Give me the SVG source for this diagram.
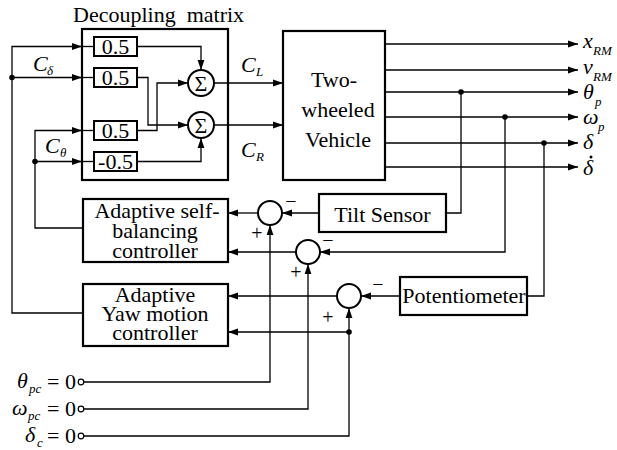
<svg xmlns="http://www.w3.org/2000/svg" width="617" height="450" viewBox="0 0 617 450">
<defs>
<marker id="arr" markerUnits="userSpaceOnUse" markerWidth="10" markerHeight="8" refX="10" refY="4" orient="auto"><path d="M0,0.6 L10,4 L0,7.4 z" fill="#000"/></marker>
<style>
.box{fill:#fff;stroke:#000;stroke-width:2.2}
.sb{fill:#fff;stroke:#000;stroke-width:2}
.ln{fill:none;stroke:#000;stroke-width:1.3}
.ar{marker-end:url(#arr)}
text{font-family:"Liberation Serif","Times New Roman",serif;fill:#000}
.t{font-size:22px}
.m{font-style:italic;font-size:22px}
.s{font-style:italic;font-size:13px}
.c{text-anchor:middle}
.pm{font-size:20px;text-anchor:middle}
.dot{fill:#000}
.sum{fill:#fff;stroke:#000;stroke-width:2}
.oc{fill:#fff;stroke:#000;stroke-width:1.2}
</style>
</defs>
<rect width="617" height="450" fill="#fff"/>

<g id="decoupling">
<rect class="box" x="82" y="29" width="146" height="151"/>
<text class="t" x="73" y="22" xml:space="preserve">Decoupling  matrix</text>
</g>

<g id="connectors">
<path class="ln ar" d="M83,313 H12 V46.5 H82"/>
<path class="ln" d="M82,46.5 H94"/>
<path class="ln ar" d="M12,77.5 H82"/>
<path class="ln" d="M82,77.5 H94"/>
<path class="ln ar" d="M83,228 H35 V130.5 H82"/>
<path class="ln" d="M82,130.5 H94"/>
<path class="ln ar" d="M35,161.5 H82"/>
<path class="ln" d="M82,161.5 H94"/>
<path class="ln ar" d="M137,46.5 H201 V70"/>
<path class="ln ar" d="M137,77.5 H148 V125 H188"/>
<path class="ln ar" d="M137,130.5 H157 V83 H188"/>
<path class="ln ar" d="M137,161.5 H201 V138"/>
<path class="ln ar" d="M214,83 H283"/>
<path class="ln ar" d="M214,125 H283"/>
<path class="ln ar" d="M385,44 H578"/>
<path class="ln ar" d="M385,70 H578"/>
<path class="ln ar" d="M385,92 H578"/>
<path class="ln ar" d="M385,117 H578"/>
<path class="ln ar" d="M385,143 H578"/>
<path class="ln ar" d="M385,167 H578"/>
<path class="ln" d="M461,92 V213 H446"/>
<path class="ln ar" d="M319,213 H282"/>
<path class="ln ar" d="M258,213 H228"/>
<path class="ln ar" d="M505,117 V252 H320"/>
<path class="ln ar" d="M296,252 H228"/>
<path class="ln" d="M544,143 V296 H527"/>
<path class="ln ar" d="M400,296 H361"/>
<path class="ln ar" d="M337,296 H228"/>
<path class="ln ar" d="M84,382 H270 V225"/>
<path class="ln ar" d="M84,409 H308 V264"/>
<path class="ln ar" d="M84,436 H349 V308"/>
<path class="ln ar" d="M349,332 H228"/>
<circle class="dot" cx="12" cy="77.5" r="2.8"/>
<circle class="dot" cx="35" cy="161.5" r="2.8"/>
<circle class="dot" cx="461" cy="92" r="2.8"/>
<circle class="dot" cx="505" cy="117" r="2.8"/>
<circle class="dot" cx="544" cy="143" r="2.8"/>
<circle class="dot" cx="349" cy="332" r="2.8"/>
<text class="m" x="33" y="71">C</text><text class="s" x="47" y="75">δ</text>
<text class="m" x="45" y="153">C</text><text class="s" x="60" y="157">θ</text>
<text class="m" x="241" y="72">C</text><text class="s" x="256" y="76">L</text>
<text class="m" x="241" y="157">C</text><text class="s" x="256" y="161">R</text>
<text class="m" x="583" y="48">x</text><text class="s" x="593" y="55">RM</text>
<text class="m" x="583" y="74">v</text><text class="s" x="593" y="81">RM</text>
<text class="m" x="583" y="99">θ</text><text class="s" x="595" y="106">p</text>
<text class="m" x="583" y="124">ω</text><text class="s" x="598" y="131">p</text>
<text class="m" x="583" y="149">δ</text>
<text class="m" x="583" y="175">δ</text>
<circle class="dot" cx="591" cy="157" r="1.5"/>
</g>

<g id="gain1"><rect class="sb" x="94" y="37" width="43" height="19"/><text class="t c" x="115.5" y="54">0.5</text></g>
<g id="gain2"><rect class="sb" x="94" y="68" width="43" height="19"/><text class="t c" x="115.5" y="85">0.5</text></g>
<g id="gain3"><rect class="sb" x="94" y="121" width="43" height="19"/><text class="t c" x="115.5" y="138">0.5</text></g>
<g id="gain4"><rect class="sb" x="94" y="152" width="43" height="19"/><text class="t c" x="115.5" y="169">-0.5</text></g>
<g id="sumL"><circle class="sum" cx="201" cy="83" r="13"/><text class="t c" x="201" y="90.5">Σ</text></g>
<g id="sumR"><circle class="sum" cx="201" cy="125" r="13"/><text class="t c" x="201" y="132.5">Σ</text></g>

<g id="vehicle">
<rect class="box" x="283" y="31" width="102" height="149"/>
<text class="t c" x="334" y="87">Two-</text>
<text class="t c" x="338" y="117">wheeled</text>
<text class="t c" x="338" y="147">Vehicle</text>
</g>

<g id="tilt"><rect class="box" x="319" y="194" width="127" height="38"/><text class="t c" x="382.5" y="222">Tilt Sensor</text></g>
<g id="pot"><rect class="box" x="400" y="277" width="127" height="38"/><text class="t c" x="464" y="303">Potentiometer</text></g>

<g id="sumA"><circle class="sum" cx="270" cy="213" r="12"/><text class="pm" x="291" y="208">−</text><text class="pm" x="257" y="240">+</text></g>
<g id="sumB"><circle class="sum" cx="308" cy="252" r="12"/><text class="pm" x="328" y="247">−</text><text class="pm" x="296" y="279">+</text></g>
<g id="sumC"><circle class="sum" cx="349" cy="296" r="12"/><text class="pm" x="378" y="291">−</text><text class="pm" x="328" y="324">+</text></g>

<g id="selfbal">
<rect class="box" x="83" y="199" width="145" height="63"/>
<text class="t c" x="157" y="218">Adaptive self-</text>
<text class="t c" x="155" y="238">balancing</text>
<text class="t c" x="155" y="258">controller</text>
</g>
<g id="yaw">
<rect class="box" x="83" y="284" width="145" height="62"/>
<text class="t c" x="155" y="302">Adaptive</text>
<text class="t c" x="155" y="321">Yaw motion</text>
<text class="t c" x="155" y="340">controller</text>
</g>

<g id="inputs">
<circle class="oc" cx="81" cy="382" r="2.8"/>
<circle class="oc" cx="81" cy="409" r="2.8"/>
<circle class="oc" cx="81" cy="436" r="2.8"/>
<text class="m" x="17" y="388">θ</text><text class="s" x="29" y="393">pc</text><text class="t" x="47" y="389">= 0</text>
<text class="m" x="12" y="415">ω</text><text class="s" x="28" y="420">pc</text><text class="t" x="47" y="416">= 0</text>
<text class="m" x="25" y="442">δ</text><text class="s" x="37" y="447">c</text><text class="t" x="47" y="443">= 0</text>
</g>
</svg>
